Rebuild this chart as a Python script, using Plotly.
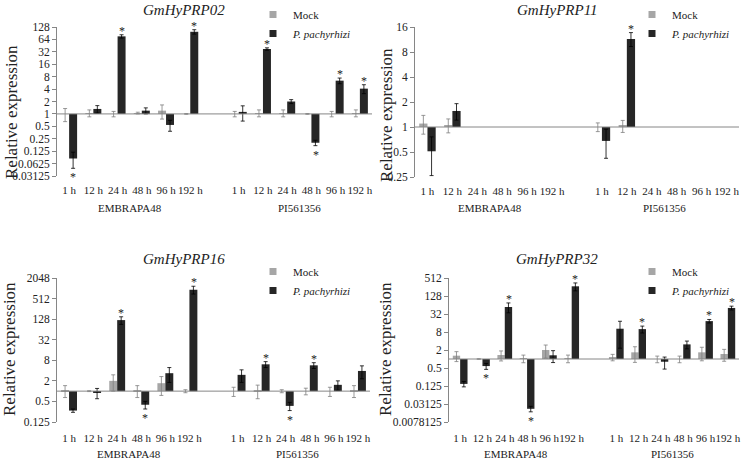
import math
import plotly.graph_objects as go

# ---------------- data ----------------
times = ["1 h", "12 h", "24 h", "48 h", "96 h", "192 h"]
genotypes = ["EMBRAPA48", "PI561356"]
series_names = ["Mock", "P. pachyrhizi"]

# order: EMBRAPA48 1..192 h, then PI561356 1..192 h
p02_mock = [1.0, 1.05, 1.0, 1.05, 1.2, 1.0, 1.0, 1.05, 1.05, 1.0, 1.0, 1.05]
p02_mock_sd = [0.35, 0.2, 0.15, 0.05, 0.45, 0.02, 0.15, 0.2, 0.2, 0.02, 0.15, 0.2]
p02_pp = [0.083, 1.32, 76, 1.2, 0.54, 98, 1.12, 37.5, 2.0, 0.2, 6.4, 4.1]
p02_pp_sd = [0.035, 0.27, 7, 0.2, 0.16, 12, 0.45, 2.5, 0.22, 0.03, 1.0, 1.0]
p02_sig = [1, 0, 1, 0, 0, 1, 0, 1, 0, 1, 1, 1]

p11_mock = [1.1, 1.05, None, None, None, None, 1.0, 1.03, None, None, None, None]
p11_mock_sd = [0.28, 0.2, None, None, None, None, 0.12, 0.17, None, None, None, None]
p11_pp = [0.51, 1.56, None, None, None, None, 0.68, 11.5, None, None, None, None]
p11_pp_sd = [0.25, 0.35, None, None, None, None, 0.26, 2.2, None, None, None, None]
p11_sig = [0, 0, 0, 0, 0, 0, 0, 1, 0, 0, 0, 0]

p16_mock = [1.05, 1.0, 2.0, 1.05, 1.71, 1.0, 1.0, 1.05, 1.0, 1.0, 1.0, 1.05]
p16_mock_sd = [0.4, 0.03, 1.0, 0.4, 0.96, 0.1, 0.3, 0.45, 0.1, 0.22, 0.3, 0.4]
p16_pp = [0.27, 0.9, 120, 0.4, 3.35, 935, 3.0, 6.1, 0.37, 5.7, 1.53, 3.9]
p16_pp_sd = [0.03, 0.3, 30, 0.1, 1.55, 240, 1.2, 1.2, 0.1, 1.1, 0.47, 1.6]
p16_sig = [0, 0, 1, 1, 0, 1, 0, 1, 1, 1, 0, 0]

p32_mock = [1.29, 1.0, 1.36, 1.05, 2.0, 1.05, 1.15, 1.67, 1.0, 1.0, 1.67, 1.47]
p32_mock_sd = [0.47, 0.02, 0.5, 0.3, 0.93, 0.3, 0.28, 0.9, 0.25, 0.25, 0.8, 0.63]
p32_pp = [0.147, 0.58, 55, 0.0216, 1.33, 270, 10.3, 10, 0.81, 3.08, 18.5, 51]
p32_pp_sd = [0.03, 0.13, 20, 0.0045, 0.57, 80, 8, 2.6, 0.35, 0.9, 2.5, 7.5]
p32_sig = [0, 1, 1, 1, 0, 1, 0, 1, 0, 0, 1, 1]

p02_ticks = ["128", "64", "32", "16", "8", "4", "2", "1", "0.5", "0.25", "0.125", "0.0625", "0.03125"]
p11_ticks = ["16", "8", "4", "2", "1", "0.5", "0.25"]
p16_ticks = ["2048", "512", "128", "32", "8", "2", "0.5", "0.125"]
p32_ticks = ["512", "128", "32", "8", "2", "0.5", "0.125", "0.03125", "0.0078125"]

# ---------------- layout helpers ----------------
W, H = 743, 464
FONT = "Liberation Serif"
MOCK_COLOR = "#a6a6a6"
PP_COLOR = "#262626"
AXIS_COLOR = "#868686"
TEXT_COLOR = "#222222"


def fx(px):
    return px / W


def fy(py):
    return 1 - py / H


def lg(v):
    return None if v is None else math.log2(v)


def err_up(vals, sds):
    return [None if v is None else math.log2(v + s) - math.log2(v) for v, s in zip(vals, sds)]


def err_dn(vals, sds):
    return [None if v is None else math.log2(v) - math.log2(max(v - s, v * 0.05)) for v, s in zip(vals, sds)]


positions = [i + (1 if i >= 6 else 0) for i in range(12)]
cat_labels = times + times

panels = [
    dict(title="GmHyPRP02", mock=p02_mock, mock_sd=p02_mock_sd, pp=p02_pp, pp_sd=p02_pp_sd, sig=p02_sig,
         ticks=p02_ticks, xpx=(57, 372), ypx=(27, 176), tpos=(184, 10), ylab=(11, 112),
         leg=(253, 0), cat_y=191, grp_y=208),
    dict(title="GmHyPRP11", mock=p11_mock, mock_sd=p11_mock_sd, pp=p11_pp, pp_sd=p11_pp_sd, sig=p11_sig,
         ticks=p11_ticks, xpx=(415, 739), ypx=(27, 177), tpos=(557, 10), ylab=(387, 115),
         leg=(632, 0), cat_y=192, grp_y=208),
    dict(title="GmHyPRP16", mock=p16_mock, mock_sd=p16_mock_sd, pp=p16_pp, pp_sd=p16_pp_sd, sig=p16_sig,
         ticks=p16_ticks, xpx=(57, 370), ypx=(278, 422), tpos=(184, 259), ylab=(9, 349),
         leg=(253, 257), cat_y=439, grp_y=454),
    dict(title="GmHyPRP32", mock=p32_mock, mock_sd=p32_mock_sd, pp=p32_pp, pp_sd=p32_pp_sd, sig=p32_sig,
         ticks=p32_ticks, xpx=(449, 739), ypx=(278, 422), tpos=(557, 259), ylab=(385, 349),
         leg=(632, 257), cat_y=439, grp_y=454),
]

fig = go.Figure()
annotations = []
shapes = []
layout_extra = {}

for k, p in enumerate(panels):
    n = "" if k == 0 else str(k + 1)
    xa, ya = "x" + n, "y" + n
    legname = "legend" + n
    fig.add_trace(go.Bar(
        x=positions, y=[lg(v) for v in p["mock"]], name=series_names[0], showlegend=False,
        marker=dict(color=MOCK_COLOR, line=dict(width=0)),
        error_y=dict(type="data", symmetric=False, array=err_up(p["mock"], p["mock_sd"]),
                     arrayminus=err_dn(p["mock"], p["mock_sd"]), color="#7f7f7f", thickness=0.8, width=2),
        xaxis=xa, yaxis=ya, offsetgroup="m",
    ))
    fig.add_trace(go.Bar(
        x=positions, y=[lg(v) for v in p["pp"]], name=series_names[1], showlegend=False,
        marker=dict(color=PP_COLOR, line=dict(width=0)),
        error_y=dict(type="data", symmetric=False, array=err_up(p["pp"], p["pp_sd"]),
                     arrayminus=err_dn(p["pp"], p["pp_sd"]), color="#000000", thickness=0.8, width=2),
        xaxis=xa, yaxis=ya, offsetgroup="p",
    ))
    # legend entries (small square swatches like the original)
    for nm, col in [(series_names[0], MOCK_COLOR), ("<i>" + series_names[1] + "</i>", PP_COLOR)]:
        fig.add_trace(go.Scatter(
            x=[None], y=[None], mode="markers", name=nm,
            marker=dict(symbol="square", size=7, color=col),
            xaxis=xa, yaxis=ya, legend=legname, showlegend=True,
        ))

    tickvals = [math.log2(float(t)) for t in p["ticks"]]
    ymin, ymax = min(tickvals), max(tickvals)
    xd = [fx(p["xpx"][0]), fx(p["xpx"][1])]
    yd = [fy(p["ypx"][1]), fy(p["ypx"][0])]
    plot_bottom = p["ypx"][1]
    layout_extra["xaxis" + n] = dict(
        domain=xd, anchor=ya, range=[-0.5, 12.5], showgrid=False, zeroline=False, showline=False,
        tickmode="array", tickvals=positions, ticktext=cat_labels, ticks="", tickangle=0,
        ticklabelstandoff=max(0, p["cat_y"] - plot_bottom - 9), automargin=False,
        tickfont=dict(family=FONT, size=11, color=TEXT_COLOR),
    )
    layout_extra["yaxis" + n] = dict(
        domain=yd, anchor=xa, range=[ymin, ymax], showgrid=False, zeroline=False,
        showline=True, linecolor=AXIS_COLOR, linewidth=1, ticks="outside", ticklen=4,
        tickcolor=AXIS_COLOR, tickmode="array", tickvals=tickvals, ticktext=p["ticks"], automargin=False,
        tickfont=dict(family=FONT, size=11.5, color=TEXT_COLOR),
    )
    # baseline at relative expression = 1
    shapes.append(dict(type="line", xref=xa, yref=ya, x0=-0.5, x1=12.5, y0=0, y1=0,
                       line=dict(color=AXIS_COLOR, width=1), layer="above"))
    # title
    annotations.append(dict(text="<i>" + p["title"] + "</i>", xref="paper", yref="paper",
                            x=fx(p["tpos"][0]), y=fy(p["tpos"][1]), showarrow=False,
                            xanchor="center", yanchor="middle",
                            font=dict(family=FONT, size=15, color=TEXT_COLOR)))
    # y label
    annotations.append(dict(text="Relative expression", xref="paper", yref="paper",
                            x=fx(p["ylab"][0]), y=fy(p["ylab"][1]), showarrow=False, textangle=-90,
                            xanchor="center", yanchor="middle",
                            font=dict(family=FONT, size=17, color=TEXT_COLOR)))
    # group labels
    for g, gx in zip(genotypes, [2.5, 9.5]):
        annotations.append(dict(text=g, xref=xa, yref="paper", x=gx, y=fy(p["grp_y"]),
                                showarrow=False, xanchor="center", yanchor="middle",
                                font=dict(family=FONT, size=11, color=TEXT_COLOR)))
    # significance asterisks
    for i, s in enumerate(p["sig"]):
        if not s:
            continue
        v, sd = p["pp"][i], p["pp_sd"][i]
        if v >= 1:
            yv = math.log2(v + sd)
            annotations.append(dict(text="*", xref=xa, yref=ya, x=positions[i] + 0.17, y=yv,
                                    showarrow=False, xanchor="center", yanchor="bottom", yshift=-5,
                                    font=dict(family=FONT, size=12, color=TEXT_COLOR)))
        else:
            yv = math.log2(max(v - sd, v * 0.05))
            annotations.append(dict(text="*", xref=xa, yref=ya, x=positions[i] + 0.17, y=yv,
                                    showarrow=False, xanchor="center", yanchor="top", yshift=0,
                                    font=dict(family=FONT, size=12, color=TEXT_COLOR)))
    layout_extra[legname] = dict(
        x=fx(p["leg"][0]), y=fy(p["leg"][1]), xanchor="left", yanchor="top",
        bgcolor="rgba(0,0,0,0)", borderwidth=0, itemwidth=30,
        font=dict(family=FONT, size=11, color=TEXT_COLOR), tracegroupgap=0,
    )

fig.update_layout(
    width=W, height=H, margin=dict(l=0, r=0, t=0, b=0, autoexpand=False),
    paper_bgcolor="white", plot_bgcolor="white",
    barmode="group", bargap=0.34, bargroupgap=0,
    showlegend=True, annotations=annotations, shapes=shapes,
    font=dict(family=FONT, color=TEXT_COLOR),
    **layout_extra,
)

# remove the browser's default 8px page margin so the figure sits at the window origin
fig.write_html(
    "out.html",
    config={"displayModeBar": False},
    post_script="document.body.style.margin='0';document.body.style.overflow='hidden';",
)
